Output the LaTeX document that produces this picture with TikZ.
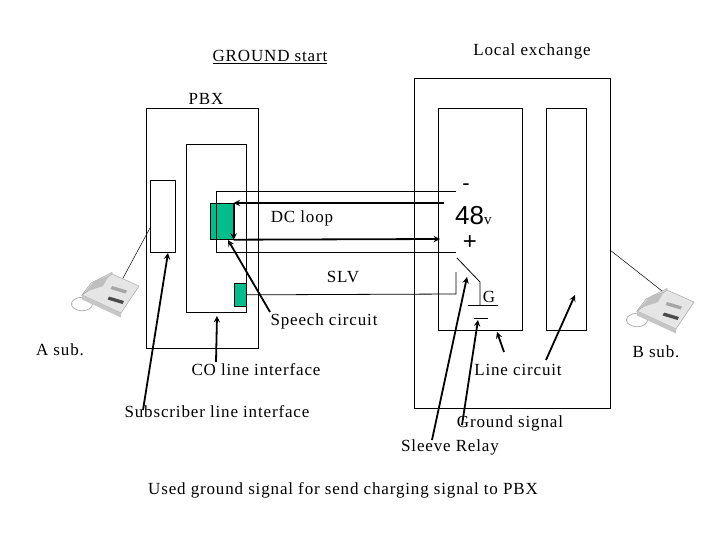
\documentclass[tikz,border=0pt]{standalone}
\usepackage{fontspec}
\setmainfont{Liberation Serif}[LetterSpace=5]
\newfontfamily\sansf{Liberation Sans}
\definecolor{grn}{RGB}{0,190,140}
\begin{document}
\begin{tikzpicture}[x=1pt,y=-1pt,
  box/.style={draw,line width=0.7pt},
  gbox/.style={draw,fill=grn,line width=0.7pt},
  wire/.style={line width=0.8pt},
  ptr/.style={line width=1.8pt,-stealth},
  lbl/.style={font=\fontsize{17}{19}\selectfont,inner sep=0pt},
  phone/.style={fill=gray!20,draw=gray!70,line width=0.5pt}]
\useasboundingbox (0,0) rectangle (720,540);
% boxes
\node[box,minimum width=112pt,minimum height=240pt,anchor=north west] (pbx) at (146,108) {};
\node[box,minimum width=60pt,minimum height=168pt,anchor=north west] (co) at (186,144) {};
\node[box,minimum width=25pt,minimum height=72pt,anchor=north west] (sli) at (150,180) {};
\node[gbox,minimum width=23pt,minimum height=36pt,anchor=north west,inner sep=0pt] (g1) at (210,203) {};
\node[gbox,minimum width=12pt,minimum height=23pt,anchor=north west,inner sep=0pt] (g2) at (234,283) {};
\node[box,minimum width=196pt,minimum height=330pt,anchor=north west] (le) at (414,78) {};
\node[box,minimum width=84pt,minimum height=222pt,anchor=north west] (lc) at (438,108) {};
\node[box,minimum width=40pt,minimum height=222pt,anchor=north west] (rb) at (546,108) {};
% wires
\coordinate (t1) at (456,191); \coordinate (t2) at (456,252);
\draw[wire] (t1) -- (216,191) -- (216,252) -- (t2);
\coordinate (a1) at (444,203);
\draw[ptr] (a1) -- (g1.north east);
\draw[ptr] (g1.north east) -- (g1.south east);
\coordinate (a2) at (440,239);
\draw[ptr] (g1.south east) -- (a2);
\coordinate (s1) at (456,272);
\draw[wire] (g2.east) -- (456,294) -- (s1);
% switch & ground
\coordinate (sw1) at (457,258); \coordinate (sw2) at (480,282);
\coordinate (gr1) at (468,305); \coordinate (gr2) at (498,305);
\coordinate (gs1) at (474,318); \coordinate (gs2) at (488,318);
\draw[wire] (sw1) -- (sw2) -- (480,305);
\draw[wire] (gr1) -- (gr2);
\draw[wire] (gs1) -- (gs2);
\node[lbl] (G) at (489,297) {G};
\node[font=\sansf\fontsize{22}{22}\selectfont,inner sep=0pt] (minus) at (466,187) {-};
\node[inner sep=0pt,anchor=west] (v48) at (455,216) {{\sansf\fontsize{26}{26}\selectfont 48}{\fontsize{15}{15}\selectfont v}};
\node[font=\sansf\fontsize{24}{24}\selectfont,inner sep=0pt] (plus) at (470,243) {+};
% labels
\node[lbl] (gs) at (270,57) {\underline{GROUND start}};
\node[lbl] (lx) at (532,51) {Local exchange};
\node[lbl] (pbxl) at (206,99) {PBX};
\node[lbl] (dc) at (302,218) {DC loop};
\node[lbl] (slv) at (343,277) {SLV};
\node[lbl] (sp) at (324,321) {Speech circuit};
\node[lbl] (asub) at (60,350) {A sub.};
\node[lbl] (col) at (256,370) {CO line interface};
\node[lbl] (slil) at (217,412) {Subscriber line interface};
\node[lbl] (lcl) at (518,370) {Line circuit};
\node[lbl] (bsub) at (656,352) {B sub.};
\node[lbl] (gsig) at (510,423) {Ground signal};
\node[lbl] (sr) at (450,447) {Sleeve Relay};
\node[lbl] (used) at (343,490) {Used ground signal for send charging signal to PBX};
% pointers
\coordinate (p1) at (270,312); \draw[ptr] (p1) -- (228,240);
\coordinate (p2) at (216,362); \draw[ptr] (p2) -- (217,316);
\coordinate (p3) at (143,410); \draw[ptr] (p3) -- (168,253);
\coordinate (p4) at (504,352); \draw[ptr] (p4) -- (497,332);
\coordinate (p5) at (546,360); \draw[ptr] (p5) -- (575,295);
\coordinate (p6) at (462,425); \draw[ptr] (p6) -- (478,320);
\coordinate (p7) at (432,440); \draw[ptr] (p7) -- (467,277);
% phones
\coordinate (pa) at (122,280); \coordinate (pb) at (676,302);
\draw[line width=0.5pt] (pa) -- (150,228);
\draw[line width=0.5pt] (610,250) -- (pb);
\foreach \cx/\cy in {100/298, 655/314}{
  \begin{scope}[shift={(\cx,\cy)},scale=1.5]
   \draw[gray!60,line width=0.8pt] (-12,4) ellipse (7pt and 4.5pt);
   \fill[phone] (-12,-2) -- (8,-16) -- (26,-8) -- (14,10) -- cycle;
   \fill[phone] (-12,-2) -- (-6,-10) -- (8,-17) -- (8,-16) -- cycle;
   \fill[gray!50] (-10,-4) -- (-4,-11) -- (6,-15) -- (2,-8) -- cycle;
   \fill[gray!70] (8,-8) -- (18,-5) -- (17,-3) -- (7,-6) -- cycle;
   \fill[black!70] (6,-1) -- (16,2) -- (15,4) -- (5,1) -- cycle;
   \fill[gray!45] (-12,-2) -- (14,10) -- (14,13) -- (-12,1) -- cycle;
  \end{scope}}
\end{tikzpicture}
\end{document}
